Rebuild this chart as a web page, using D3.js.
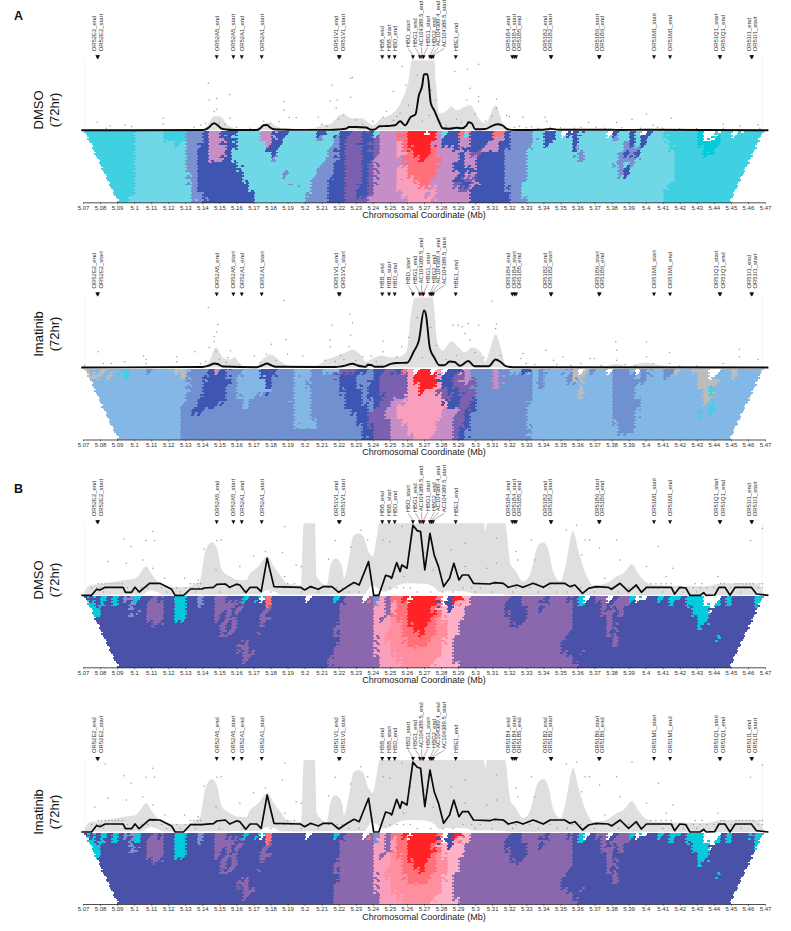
<!DOCTYPE html>
<html><head><meta charset="utf-8">
<style>html,body{margin:0;padding:0;background:#fff}svg{display:block}text{font-family:"Liberation Sans",Arial,sans-serif}</style>
<script src="https://cdn.jsdelivr.net/npm/d3@7"></script></head><body>
<script>
// Positions on the chromosome are written in hundredths of a Mb above 5 Mb (27 = 5.27 Mb).
const tickValues=[7,8,9,10,11,12,13,14,15,16,17,18,19,20,21,22,23,24,25,26,27,28,29,30,31,32,33,34,35,36,37,38,39,40,41,42,43,44,45,46,47];
const xAxisLabel="Chromosomal Coordinate (Mb)";
const conditions=["DMSO","Imatinib","DMSO","Imatinib"];
const timeLabel="(72hr)";
const panelLetters=["A","","B",""];

const geneLabels=["OR52E2_end","OR52E2_start","OR52A5_end","OR52A5_start","OR52A1_end","OR52A1_start","OR51V1_end","OR51V1_start","HBB_end","HBB_start","HBD_end","HBD_start","HBG1_end","AC104389.5_end","HBG1_start","HBG2_end","AC104389.4_end","AC104389.5_start","HBE1_end","OR51B4_end","OR51B4_start","OR51B5_end","OR51B2_end","OR51B2_start","OR51B6_start","OR51B6_end","OR51M1_start","OR51M1_end","OR51Q1_start","OR51Q1_end","OR51I1_end","OR51I1_start"];
const genePos=[7.84,7.88,14.84,15.82,16.31,17.48,22,22.06,24.55,24.95,25.28,26.35,26.76,26.88,26.97,27.35,27.44,27.53,28.86,32.18,32.3,32.4,34.43,34.47,37.26,37.3,40.49,41.43,44.34,44.38,46.2,46.24];
const labelPos=[7.66,8.06,14.84,15.82,16.31,17.48,21.84,22.26,24.55,24.95,25.28,26.07,26.5,26.85,27.22,27.6,27.85,28.2,28.86,31.94,32.28,32.6,34.07,34.38,37.13,37.45,40.49,41.43,44.15,44.55,46.05,46.4];
const geneLift=[6,6,6,6,6,6,6,6,6,6,6,10,10,11,11,11,11,10,6,6,6,6,6,6,6,6,6,6,6,6,6,6];
const geneRed=["AC104389.5_end"];

const lineA1=[[6.9,0],[14,.3],[14.2,1],[14.4,3],[14.6,6.5],[14.7,7],[14.9,5],[15.1,2],[15.4,.8],[15.8,.3],[17.2,.3],[17.4,2],[17.6,5],[17.8,5.3],[18,2.5],[18.2,1],[18.6,.7],[19,.5],[20,.4],[21.5,.4],[22,.8],[22.4,1.5],[22.6,3.3],[23,3.3],[23.6,2.8],[23.9,.6],[24.1,.8],[24.4,4],[24.9,4.3],[25.3,5],[25.6,9],[25.9,5],[26.2,13],[26.5,16],[26.7,35],[26.9,45],[27,56],[27.2,56],[27.4,27],[27.6,20],[27.9,8],[28.1,2],[28.5,1.5],[28.9,2.5],[29.2,2],[29.5,5],[29.6,8],[29.8,7],[30,1],[30.6,1.3],[31,4.5],[31.3,6],[31.6,5],[31.9,1],[32.3,.3],[34,.6],[34.5,1.4],[34.9,.5],[38,.6],[38.5,.3],[40,.5],[47.2,0]];
const lineA2=[[6.9,0],[14,.5],[14.4,2],[14.7,4],[14.9,3.5],[15.2,1],[17.2,.3],[17.5,2],[17.8,4],[18,2.5],[18.3,.7],[21.8,.5],[22.4,2],[22.8,3.8],[23.1,2],[23.4,1],[23.6,.8],[23.7,2.8],[23.9,2.5],[24.1,.8],[24.6,.8],[25,3.3],[25.4,4.5],[26,4.7],[26.4,16],[26.7,27],[27,57],[27.1,54],[27.35,19],[27.6,10],[27.9,2.3],[28.2,2.3],[28.5,6],[28.8,5.5],[29.1,1.7],[29.6,6.5],[29.96,1.3],[30.8,1.3],[31.2,8],[31.5,5.5],[31.8,1.3],[32.2,.3],[47.2,0]];
const lineB1=[[6.9,0],[7.5,0],[7.8,6],[8,5.3],[8.3,8],[9.35,8],[9.5,3],[9.85,3],[10.05,8],[10.3,3.3],[10.9,12],[11.5,12],[12.2,6],[12.4,0],[12.9,0],[13.3,6.3],[14,6.3],[14.1,7.3],[14.65,8],[14.85,11],[15.35,11.3],[15.6,8],[16,11],[16.2,10.3],[16.55,2.7],[16.8,8],[17.2,8],[17.45,3.7],[17.8,37],[18.2,8.7],[19.75,8],[20,5.3],[20.35,8.7],[20.8,6],[21.1,8.7],[21.6,8.7],[22,3],[22.5,8.7],[22.9,12.7],[23.2,10.3],[23.75,33.7],[24.05,0],[24.35,0],[24.75,20],[25,18.7],[25.1,17],[25.4,32.7],[25.6,23.7],[25.7,30.3],[26,27],[26.35,70],[26.6,64.7],[26.8,63.7],[27.05,25.3],[27.35,62],[27.6,40.3],[27.85,28.7],[28.15,8.7],[28.5,17],[28.75,32],[29.05,15.3],[29.25,20.3],[29.6,20.3],[29.9,12],[30.85,11.3],[31.15,12.7],[31.65,12],[31.95,8],[32.45,10.3],[32.8,8],[33.4,12],[34,8],[34.4,12],[35.25,12],[35.55,8.7],[35.85,10.3],[36.3,2],[36.65,7],[37.1,8.7],[37.8,8],[38,6],[38.5,12],[39,3.7],[39.45,10.3],[39.75,3],[40.05,8],[41.5,8],[41.7,1.3],[42,8],[42.35,7.3],[42.6,0],[43.2,0],[43.4,2.7],[43.55,0],[44.05,.3],[44.3,8],[44.65,8],[44.95,0],[45.25,8],[46.2,8],[46.5,1.3],[47.2,0]];
const lineB2=[[6.9,0],[7.5,0],[7.8,6.5],[8,5.3],[8.3,8],[9.35,8],[9.5,3.3],[9.85,3.3],[10.05,8],[10.3,3.3],[10.9,12.3],[11.5,12],[12.2,6],[12.4,0],[12.9,0],[13.3,7.3],[14,7.3],[14.1,7.7],[14.65,8.3],[14.85,11],[15.35,12],[15.6,8],[16,11],[16.2,10.3],[16.55,2.7],[16.8,8],[17.2,8],[17.45,3.7],[17.8,37],[18.2,8.7],[19.75,8],[20,5.3],[20.35,8.7],[20.8,6],[21.1,8.7],[21.6,8.7],[22,3],[22.5,8.7],[22.9,12.7],[23.2,10.3],[23.75,33.7],[24.05,0],[24.35,0],[24.75,20],[25,18.7],[25.1,17],[25.4,32.7],[25.6,23.7],[25.7,30.3],[26,27],[26.35,70],[26.6,64.7],[26.8,63.7],[27.05,25.3],[27.35,62],[27.6,40.3],[27.85,28.7],[28.15,8.7],[28.5,17],[28.75,32],[29.05,15.3],[29.25,20.3],[29.6,20.3],[29.9,12],[30.85,11.3],[31.15,12.7],[31.65,12],[31.95,8],[32.45,10.3],[32.8,8],[33.4,12],[34,8],[34.4,12],[35.25,12],[35.55,8.7],[35.85,10.3],[36.3,2],[36.65,7],[37.1,8.7],[37.8,8],[38,6],[38.5,12],[39,3.7],[39.45,10.3],[39.75,3],[40.05,8],[41.5,8],[41.7,1.3],[42,8],[42.35,7.3],[42.6,0],[43.2,0],[43.4,2.7],[43.55,0],[44.05,.3],[44.3,8],[44.65,8],[44.95,0],[45.25,8],[46.2,8],[46.5,1.3],[47.2,0]];

const bandA1=[[7,0],[13.8,.5],[14.2,3],[14.7,14],[15,14],[15.5,5],[16.2,1],[17,1],[17.5,6],[17.9,8],[18.5,3],[19.5,1],[20.5,2],[21,5],[21.5,6],[21.8,11],[22.2,16],[22.8,12],[23.3,12],[23.8,7],[24,5],[24.5,12],[25,15],[25.7,30],[26.1,50],[26.3,70],[27.6,70],[27.7,47],[27.9,17],[28.3,19],[28.6,24],[28.9,20],[29.7,25],[30.3,10],[30.6,7],[31.2,25],[31.7,4],[32.2,.5],[34,1],[47,0]];
const bandA2=[[7,0],[14,.5],[14.4,6],[14.8,20],[15.2,10],[15.6,8],[15.9,10],[16.3,2],[17.1,1],[17.6,9],[18,13],[18.6,6],[19.2,1.5],[20.7,2],[21.2,7],[21.8,11],[22.4,15],[22.8,18],[23.2,14],[23.6,6],[24,9],[24.5,12],[25,10],[25.6,11],[26,17],[26.25,54],[26.45,70],[27.5,70],[27.8,24],[28.1,17],[28.6,26],[29.1,19],[29.4,15],[29.8,20],[30.3,16],[30.6,6],[30.8,14],[31.2,33],[31.5,20],[31.8,2],[32.1,.5],[37.5,.5],[38.2,3.5],[39,1.5],[40,5],[40.6,3],[41.5,1],[43,1],[47,0]];
const bandB1=[[7,0],[7.4,10],[8,11],[9.35,15],[10.1,17],[10.7,29],[11.3,15],[11.7,9],[12.9,8],[13.85,14],[14.15,42],[14.55,53],[14.85,47],[15.15,25],[15.6,19],[16.2,15],[16.6,15],[16.7,19],[17.3,29],[17.8,39],[18.35,25],[18.95,12],[19.8,10],[19.95,72],[20.6,72],[20.7,19],[21.3,10],[21.5,29],[21.8,37],[22.2,29],[22.3,17],[22.6,37],[22.85,59],[23.15,62],[23.45,59],[23.8,42],[24,39],[24.4,72],[30.5,72],[30.6,64],[30.7,72],[31.75,72],[32.05,32],[32.35,25],[32.8,14],[33.2,20],[33.7,50],[34,53],[34.3,45],[34.6,22],[35,14],[35.25,25],[35.75,64],[36.05,45],[36.55,19],[36.95,10],[37.7,12],[38.3,19],[38.7,22],[39.2,31],[39.55,22],[39.95,14],[40.65,10],[43.55,9],[44.5,12],[46.5,12],[47,0]];
const bandB2=[[7,0],[7.4,10],[8,11],[9.35,15],[10.1,17],[10.7,29],[11.3,15],[11.7,9],[12.9,8],[13.85,14],[14.15,42],[14.55,53],[14.85,47],[15.15,25],[15.6,19],[16.2,15],[16.6,15],[16.7,19],[17.3,29],[17.8,39],[18.35,25],[18.95,12],[19.8,10],[19.95,72],[20.6,72],[20.7,19],[21.3,10],[21.5,29],[21.8,37],[22.2,29],[22.3,17],[22.6,37],[22.85,59],[23.15,62],[23.45,59],[23.8,42],[24,39],[24.4,72],[30.5,72],[30.6,64],[30.7,72],[31.75,72],[32.05,32],[32.35,25],[32.8,14],[33.2,20],[33.7,50],[34,53],[34.3,45],[34.6,22],[35,14],[35.25,25],[35.75,64],[36.05,45],[36.55,19],[36.95,10],[37.7,12],[38.3,19],[38.7,22],[39.2,31],[39.55,22],[39.95,14],[40.65,10],[43.55,9],[44.5,12],[46.5,12],[47,0]];
const bandFloorB=[[7,.3],[10.4,.5],[10.7,3],[11,5],[11.4,3],[11.7,.5],[17.3,1],[17.8,5],[18.2,4],[18.6,.5],[23.5,1],[23.9,10],[24.2,8],[24.6,3.5],[25,5],[25.5,10],[26,12],[27,11.5],[27.6,8],[27.9,3],[28.3,4],[29.4,4],[29.9,1.5],[31.5,1.3],[32,.3],[47,0]];

const pointsA1=[[7.84,8],[8.37,2],[8.6,4.3],[9.45,5.3],[9.85,3.7],[11.7,12],[11.7,6.3],[14.35,47],[14.4,30],[14.85,31.7],[14.85,21],[14.7,18.7],[15.6,35.7],[15.6,12],[18.8,28.7],[18.8,20],[19.1,12.7],[19.5,12.7],[18.5,8.7],[21.6,45],[21.5,29.3],[21.85,22],[21.9,30],[22.7,52],[22.8,52.7],[22.7,33],[22.3,15.3],[23,10.3],[20.8,13],[24.8,18.7],[24.6,13],[25.2,38.7],[25.7,63.7],[25.95,45],[25.6,17],[28.8,58.7],[29.55,61],[30.2,66],[29.7,42],[29.5,30],[30.2,33.7],[30.2,28.7],[31.25,31],[31.25,22],[31.85,15],[32,13.7],[32.8,13],[34.1,13],[34.2,8.7],[36.65,7.7],[38.3,7.7],[39.2,11],[40.05,16.3],[41.5,12],[40.45,5],[44.55,6.3],[45.55,4.3],[46.6,5.3],[46.7,2],[44.55,2],[32.3,3],[32.6,4],[33,2.5],[33.3,3.5],[33.7,2],[34.4,3],[35,2.5],[35.8,2],[36.2,3],[37.1,3],[37.6,2],[38.6,2.5],[39.7,2],[40.7,3],[41,2],[42,1.5],[43,1.5],[25.2,10],[25.4,14],[26.1,25],[26.6,55],[27.4,40],[27.7,30],[27.3,15],[26.9,9],[28.3,5],[28.9,11],[29.2,8],[30.6,9],[31,14],[26,8],[30,16],[13.5,3],[13.9,5],[14.2,7],[15,8],[15.3,6],[16,3],[16.8,2],[17.6,9],[18,7],[21,6],[21.3,4],[22,11],[23.4,6],[24,9]];
const pointsA2=[[7.1,2.3],[7.9,15.7],[8.2,4],[8.65,4],[9.45,5.7],[10.55,11.7],[10.7,8],[10.7,4],[12.5,10.7],[12.5,5.7],[13.55,15.7],[14.35,60],[14.9,43],[14.85,35.7],[14.7,31],[14.7,25.7],[14.4,20],[14.8,15.7],[15.65,16.7],[15.5,10],[17.05,11.3],[18.05,23.3],[17.75,13.3],[18.8,67],[18.9,28],[19,13.3],[19.9,11.3],[21.6,42.3],[21.5,27.3],[21.5,20.7],[21.2,7.3],[22.65,53.3],[22.8,44.7],[22.7,32.3],[22.6,20.7],[22.1,12.3],[23.4,10.7],[23.9,11.3],[24.6,26.3],[24.6,15.7],[25.4,10.7],[25.7,20.7],[28.7,42.3],[29,42.3],[29.25,40.7],[29.6,44],[30.2,42.3],[29.7,27.3],[29.4,34],[31,66.3],[31.25,43.3],[31.2,39],[32.8,14],[32.7,9],[34.15,17.3],[35.15,10.7],[34.6,7.3],[36.75,9],[37,9],[38.25,25.7],[38.3,17.3],[38.3,7.3],[40.05,25.7],[40.05,10.7],[41.4,15],[41.4,4],[45.5,18.3],[45.5,10.7],[46.6,8],[44.55,4],[40.45,4],[33,4],[33.5,3],[34.8,3],[35.6,2],[36.2,4],[37.4,2],[38.8,3],[39.4,2],[42,1.5],[43,1.5],[26.1,30],[26.6,50],[27.4,40],[27.7,22],[26.9,10],[28.3,8],[28.9,12],[30.5,10],[31.5,12],[30,15],[13.9,4],[14.2,6],[15,8],[15.4,5],[16.2,3],[17.4,5],[18.3,7],[21.8,6],[22.3,8],[23,7],[24.2,6]];
const pointsB1=[[8.47,33.7],[9.54,32],[9.39,56.3],[9.83,48.7],[10.68,54.7],[11.2,54.7],[11.1,63.7],[10.5,35.3],[11.1,27],[11.8,17],[12.96,17],[13.75,15.3],[14.1,46],[14.86,54.7],[15.1,55.3],[14.8,25.3],[16.2,28.7],[17,39.3],[17.7,43.7],[18.83,68.7],[18.83,18.7],[18.7,42.7],[19.5,30.3],[19.8,28.7],[21.4,36],[21.8,54.7],[22.7,48],[23.3,65.3],[23.7,55.3],[24.6,55.3],[25,53.7],[25.7,68.7],[28.6,45.3],[29.4,52],[31.25,57],[32.4,43.7],[32.5,35.3],[33.3,55.3],[33.5,35.3],[35.35,65.3],[35.95,70],[36.45,55.3],[36.7,55.3],[36.25,40.3],[37.3,47],[38.3,55.3],[38.5,35.3],[40.75,48.7],[40.05,28.7],[41.6,27],[41.2,18.7],[46.15,54.7],[46.85,67],[44.25,18.7],[37.6,17],[30.7,27],[31.25,32],[29.4,28.7],[26.2,45],[27,42],[27.55,25],[25.2,18.7],[25.8,18.7]];
const pointsB2=[[7.7,25],[8.47,33.7],[9.54,32],[9.39,56.3],[9.83,48.7],[8.3,68],[10.68,54.7],[11.2,54.7],[11.1,63.7],[10.5,35.3],[11.1,27],[11.8,17],[12.96,17],[13.75,15.3],[14.1,46],[14.86,54.7],[15.1,55.3],[14.8,25.3],[16.2,28.7],[17,39.3],[17.7,43.7],[18.83,68.7],[18.83,18.7],[18.7,52],[19.5,30.3],[19.8,28.7],[21.4,36],[21.8,54.7],[22.7,48],[23.3,65.3],[23.7,55.3],[24.6,55.3],[25,53.7],[25.7,68.7],[28.6,45.3],[29.4,52],[31.25,57],[32.4,43.7],[32.5,35.3],[33.3,55.3],[33.5,35.3],[35.35,68],[35.95,70],[36.45,55.3],[36.7,55.3],[36.25,40.3],[37.3,47],[38.3,55.3],[38.5,35.3],[39.2,70],[40.75,48.7],[40.05,28.7],[41.6,27],[41.2,18.7],[46.15,54.7],[46.85,67],[44.25,18.7],[37.6,17],[30.7,27],[31.25,32],[29.4,28.7],[26.2,45],[27,42],[27.55,25],[25.2,18.7],[25.8,18.7]];
const dotsHigh=[7.9,8.1,8.3,8.5,8.7,8.9,9.1,9.3,10.9,11.1,11.3,13.3,13.5,13.7,13.9,15.1,15.3,16,16.1,19,19.4,30.9,31.2,31.6,33.4,33.6,34.4,34.7,35,35.2,38.5,40.3,40.6,40.9,41.2,41.5,42.9,43.3,44.4,44.6,45.3,45.5,45.7,45.9,46.1,46.3,46.7,46.85];
const dotsMid=[7.5,7.8,8,8.4,8.8,9.2,9.6,10,10.4,10.8,11.6,12,12.5,13,13.4,13.8,14.2,14.6,15.6,16.8,17.2,18.4,18.8,19.2,19.6,20.4,21,21.4,21.9,22.2,25,25.4,25.8,26.2,29.3,29.8,30.3,31.9,32.4,32.8,33.2,34,34.4,35.7,36.2,36.7,37.1,37.5,38,39,39.5,40,40.4,40.8,41.2,41.6,42,42.4,42.8,43.2,43.6,44,44.4,45,45.4,45.8,46.2,46.6,46.85];
const dotsLow=[8.2,9.4,10.2,11.9,12.7,13.6,15,16.4,18,19.8,20.8,22.6,23.2,26.6,27.4,28.1,28.7,30,31,32.2,33.7,34.8,35.4,37,38.4,39.8,41,42.2,43,44.8,45.6,46.4];

const palette={c:"#3fd0e1",a:"#6fd7e6",b:"#03cbdc",p:"#7a90d1",d:"#3e55b2",v:"#7a60ae",k:"#c68dc6",r:"#f99ebb",o:"#ffb1c7",f:"#ff7079",h:"#ff8f9e",R:"#ff2227",l:"#83b8e6",s:"#7090d0",n:"#4952a8",u:"#8b68ae",g:"#bcbcbc"};

// Each row lists colour letter + start position; "." leaves the cell empty. Rows run from the diagonal downward.
const heatA1=[
"c7 a10 c11.8 p13.1 d14 k14.4 d15.1 a15.9 k17.3 d18.2 a18.9 d20.7 a21.2 d21.9 v22.8 d23.5 a24 k24.3 f25.5 R26.1 .27 R27.2 k27.6 a28 d28.3 f29 a29.5 d29.8 f31 d31.6 p32 a33.3 d34 a34.7 .35.1 d35.5 a36.2 .37.8 a38 d38 a38.4 d38.9 a39.4 .39.6 d39.9 a40.3 c41 b43 .43.4 .44 c44.2 .45.1 c45.5",
"c7 a10 c11.8 p13.1 d14 k14.4 d15.2 a15.9 k17.4 d18.2 a18.7 p20.8 a21 p21.8 d22 v22.4 d23.3 v23.9 k24.4 f25.5 R26.1 k27.6 d28.1 k29 d29.7 k31 d31.6 p32.1 a33.5 d34 a34.6 d35.7 a36.1 p38 a38.3 p38.9 d39.1 a39.4 d39.8 a40.1 c41.2 b43.1 .43.5 b43.9 c44.3",
"c7 a10 c12.3 a12.8 p13.1 d13.9 k14.4 d15.2 a16 k17.6 d18.1 a18.6 p21.6 d22 v22.4 d23.2 v23.9 k24.5 r25.4 f25.7 R26.1 k27.5 d28 k29.1 d29.6 k30.8 d31.5 p32 a33.3 d34.1 a34.5 p35.6 d35.8 a36.1 p38.6 d39.1 a39.3 d39.6 a40 c41.4 b43.1 .43.7 b43.8 c44.3",
"c7 a10 p13.1 d13.8 k14.3 d15.3 a15.9 d17.8 a18.5 p21.4 d21.9 v22.3 d23.3 v23.9 k24.5 r25.3 f25.8 R26.2 f27.5 k27.8 d28.6 k29.2 d29.5 k30.4 d31.4 p31.9 a33.2 p35.7 d35.9 a36.1 p38.7 a39.3 p39.4 a39.8 c41.5 b43.3 c44",
"c7 a10 p13.1 d13.8 k14.4 d15.2 a15.8 d18 a18.4 p21.3 d21.9 v22.3 d23.4 v24 k24.4 r25.4 f25.9 R26.3 f27.3 k27.8 d28.9 k29.3 v29.6 d30.3 p31.8 a33.1 p35.9 a36.4 p38.4 d38.6 p39 d39.2 a39.6 c41.6 b43.5 c43.9",
"c7 a10 p13.1 d13.7 k14.4 d15.2 a15.8 p18.2 a18.4 p21.2 d21.9 v22.3 d23.4 k24 f25.8 R26.6 f27 k27.9 d29 k29.4 d30 p31.8 a33 p36.1 a36.3 p38.3 a38.9 p39.1 a39.5 c41.6",
"c7 a10 p13.1 d13.6 a16.1 p18.3 a18.5 p21 d21.8 v22.3 d23.4 v23.8 k24.2 f25.9 k27.9 d28.8 k29.5 d30 p31.7 a33 p38.2 a38.8 p39.1 a39.5 c41.6",
"c7.4 a10 p13.1 d13.6 a16.2 p18.6 a18.8 p20.7 d21.7 v22.3 d23.4 v23.7 k24.2 r25.4 f26 k27.8 d28.7 k29.6 d29.9 p31.6 a33 p38.3 d38.6 a39.1 c41.6",
"c7.5 a10 p13.2 d13.6 a16.4 p18.7 a18.9 p20.6 d21.6 v22.3 d23.4 v23.6 k24.2 r25.4 f26 k27.7 d28.9 k29.5 d30 p31.6 a32.9 p38.4 d38.7 a39 c41.6",
"c7.8 a10 p13.2 d13.6 a16.5 p20.5 d21.5 v22.3 d23.3 v23.7 k24.2 r25.5 f26.3 k27.5 d28.7 v29.2 d30.1 p31.7 a32.9 c41.6",
"c8 a10 p13.2 d13.6 a16.7 p19.2 a19.3 p20.4 d21.4 v22.4 d23.2 v23.7 k24.2 r25.5 f26.6 k27.3 v28.7 d29.1 k29.6 d30.2 p31.8 a32.8 c41.4",
"c8.2 a10 p13.3 d13.7 a16.8 p19.3 a19.5 p20.3 d21.3 v22.4 d23.1 v23.6 k24 r25.4 k26.9 r27.2 k27.6 v29 d29.6 p31.9 a32.8 c41.2",
"c8.6 a9.9 p13.4 d14 a16.9 p20.2 d21.3 v22.4 d23 v23.6 k23.9 r25.6 k27 r27.4 k27.8 d29.6 p32 a32.8 c41.1",
"c9 a9.8 p13.5 d14.2 a17 p20.1 d21.3 v22.4 k23.8 r26 k27.5 d29.7 p32 a33 c41"];
const heatA2=[
"g7 l7.5 g8 l8.4 c9.2 l9.6 s10.8 l11 g12.4 l12.9 s13.2 d14.3 k14.8 d15 s15.5 l16.4 d17.4 s18.3 l19.4 s20.3 l21 v21.9 d23.1 s23.7 d24 v24.6 d25.2 f25.6 r26 .26.5 R26.6 .26.9 R27.1 .27.4 r27.6 .28 d28.5 r29.2 k29.5 s29.8 k31 s31.5 l32 d32.8 l33.2 s33.6 l34.2 s35.2 l35.5 g35.8 .36.1 g36.3 s36.7 l37 .37.8 s38.1 l38.9 .39.5 s39.8 l40.2 s41 g41.6 l42 g42.8 .43.6 .44 l44.3 g45 l45.4 g46.6",
"g7 l8 g8.4 l8.8 c9.4 l9.8 g12.6 l13 s13.1 d14.2 s15.5 l16.2 d17.5 s18.2 l19.5 s20.3 d21.9 s23 d24 v24.5 r26 R26.5 r27.6 d27.9 v28.6 k29.3 s29.8 k30.9 s31.5 l33.3 s33.6 l34 s35.3 g35.8 l36.3 s38 l39.3 s39.7 l40.2 s41 l41.3 g42.9 .43.6 g44 l44.1 g45.1 l45.3 g46.6",
"l7 s10.9 l11.1 l13 s13.2 d14.2 s15.6 l16.1 d17.6 s18.1 l19.4 s20.2 s21.5 d22.1 s23.1 d23.9 v24.5 v25 r26 R26.5 r27.7 d27.9 v28.7 k29.2 v29.6 s30 k30.9 s31.5 l33.4 s33.7 l34 s35.4 g35.9 l36.2 s38.1 l39.3 s39.5 l40.1 g43 .43.7 g43.8 l44.3",
"l7 s10.9 l11.1 l13 s13.2 d14 s15.5 l16.1 d17.7 s18 l19.4 s20.2 d22.1 s23.2 d23.8 v24.5 r26 R26.6 r27.6 d28 v28.6 s29.9 k31 s31.5 l33.5 s33.8 l34.1 g36 l36.2 s38 l39.3 g43.1 c43.9 l44.1",
"l7 s13.2 d14 s15.3 l16.1 d17.9 s18.1 l19.4 s20.3 d22.2 s23.4 d23.8 v24.5 r26 R26.7 r27.1 v27.8 d28.4 v29 s30 l33.4 g36.1 l36.3 s38 l39.4 g43.3 c43.8 l44",
"l7 s13.1 d13.9 s15.3 l16.2 s16.9 l19.4 s20.4 d22.3 s23.5 d23.8 v24.6 r25.9 v28 d28.7 v29.2 s30 l33.3 g36.2 l36.3 s38 l39.5 g43.4 c43.9 l44",
"l7 s12.9 d13.8 s15.2 l16.3 s16.8 l19.2 s20.5 d22.4 s23.5 d24 v24.5 k25 r25.9 d28.2 v29 d29.6 s30 l33.2 s38 l39.6 g43.5 l43.7",
"l7 s12.7 d13.6 s14.8 l16.4 s16.7 l19.3 s20.5 d22.5 s23.6 d24 v24.4 k25 r25.5 d28.3 v28.9 d29.6 s30 l33.1 s38 l39.6 c43.6 l44",
"l7 s12.6 d13.4 s14 l19.3 s20.5 d22.7 s23.7 v23.9 k24.8 r25.3 k28.1 v28.9 d29.5 s29.9 l33.1 s38 l39.5 c43 l43.2 c43.7 l44",
"l7 s12.6 l19.3 s20.5 d22.9 v23.8 k24.8 r25.3 k28 v28.7 d29.4 s29.8 l33.1 s38 l39.5 c43 l43.2",
"l7 s12.6 l19.4 s20.6 d23.1 v23.8 k24.9 r25.6 k27.8 v28.7 d29.3 s29.7 l33 s38.2 l39.5",
"l7 s12.6 l19.5 s20.6 d23.3 v23.9 k25 r26 k27.8 v28.6 d29.2 s29.6 l33.2 s38.3 l39.4",
"l7 s12.6 d23.4 v24 k25.1 r26 k27.6 v28.6 d29.1 s29.5 l33.2 s38.5 l39.2",
"l7 s12.6 d23.5 v24 k25 r26.3 k27.4 v28.6 d29.1 s29.5 l33.2"];
const heatB1=[
"n7 b7.2 n7.5 b8.1 n8.5 b8.7 n9 p9.5 n9.9 b10.1 n10.3 u10.9 n11.5 b12.3 n13 p13.7 n14 u14.8 n15.4 b16.5 n16.7 b17.2 .17.5 f17.6 n18 .20.1 n20.3 b21.7 n22 u22.3 .23.3 u23.6 f23.9 p24.1 r24.4 u24.7 f25 R25.8 .26.2 R26.4 .26.9 R27.1 f27.6 n27.9 .28.1 n28.3 f28.6 R28.8 o29.2 u29.7 n32.1 u32.6 n33.9 u34.3 .34.9 u35 n35.5 b36 .36.3 n36.6 u37 .37.7 n38 u38.3 b39 .39.5 n39.9 b40.7 n41 b41.4 n41.9 b42.4 .43.4 .44 n44.3 b44.8 n45.1 b46.4 p46.7",
"b7.3 n7.8 b8.2 n8.4 b8.8 n9 p9.6 n10 u10.8 n11.6 b12.4 n13 p13.8 n14 u14.6 n15.6 u15.8 n16.2 f17.6 n18 u22.2 r24.1 p24.2 r24.4 u24.7 r25 f25.4 R26 f27.6 n27.9 .28.2 n28.3 r28.7 f28.9 o29.2 u29.6 n31.7 u32.8 n33.9 u34.2 n35.6 b36 n36.3 u37.4 n37.8 u38 n39 b41.5 n41.8 b42.5 .43.5 .43.9 b44 n44.4 b44.8 n45.1 b46.4 p46.8",
"b7.4 n8 p9.9 n10 u10.8 n11.6 b12.4 n13 u14.7 n15.8 u16 n16.4 u17.6 n18 u22 r24.1 u24.7 r24.9 f25.3 R26 f27.5 o27.9 n28.3 o28.7 u29.5 n31.8 u33 n33.8 u34.1 n35.7 u37.5 n37.9 u38.2 n38.6 b42.7 .43.6 n43.9",
"b7.6 n8 p9.9 n10.2 u10.8 n11.6 b12.4 n13 u14.6 n15 u15.3 n15.9 u17.3 n17.8 u22 r24 u24.6 r24.9 f25.2 R26 f27.6 o28.1 u29.4 n31.9 u33.1 n35.8 u37.5 n38 u38.4 n38.6 b42.8 n43.7",
"n7 u10.8 n11.6 b12.5 n12.9 u14.7 n15 u15.5 n16 u17.4 n17.9 u22 r24 u24.5 r24.7 h25.1 f25.5 R26.1 f27.3 h27.8 o28.2 u29.2 n32 u33 n35.8 u37.6 n38 b43 n43.6",
"n7 u10.9 n11.5 u14.9 n15.3 u15.6 n16.1 u17.5 n17.8 u21.9 r24 h25 f25.6 R26.2 f27.2 h27.8 o28.3 u29.1 n32.2 u32.7 n35.7 u37.7 n38.2 b43.1 n43.5",
"n7 u15 n15.4 u15.8 n16.1 u21.8 r24 h24.9 f25.6 R26.4 f27 h27.8 o28.3 u29 n35.6 u37.8 n38.2 b43.2 n43.4",
"n7 u15.2 n15.6 u16.9 n17.2 u21.9 r24.1 h24.8 f25.7 R26.6 f26.9 h27.7 o28.3 u28.9 n35.4 u37.9 n38.2",
"n7 u22 r24.2 h24.8 f25.9 h27.4 o28.2 u28.8 n35.2 u38 n38.3 b44 n44.2",
"n7 u16.2 n16.7 u21.9 r24.2 h24.9 f26.1 h27.2 o28.2 u28.7 n35 u38.1 n38.4",
"n7 u16.2 n16.8 u21.7 r24.2 h25 o28.1 u28.7 n35.1",
"n7 u16.3 n16.9 u21.6 r24.2 h25.2 o28 u28.7 n35.4 u36 n36.2",
"n7 u16.4 n16.8 u21.5 r24.3 h25.5 o27.8 u28.8 n35.6",
"n7 u21.5 r24.3 h25.6 o27.5 u28.9 n35.9"];
const heatB2=[
"n7 b7.2 n7.5 b8.1 n8.5 b8.7 n9 p9.5 n9.9 b10.1 n10.5 u10.9 n11.5 b12.3 n13 p13.7 n14 u14.8 n15.4 b16.5 n16.7 b17.2 .17.5 f17.6 n18 .20.1 n20.3 b21.7 n22 u22.3 .23.3 u23.6 f23.9 p24.1 r24.4 u24.7 f25 R25.8 .26.2 R26.4 .26.9 R27.1 f27.6 n27.9 .28.1 n28.3 f28.6 R28.8 o29.2 u29.7 n32.1 u32.6 n33.9 u34.3 .34.9 u35 n35.5 b36 .36.3 n36.6 u37 .37.7 n38 u38.3 b39 .39.5 n39.9 b40.7 n41 b41.4 n41.9 b42.4 .43.4 .44 n44.3 b44.8 n45.1 b46.2 p46.7",
"b7.3 n7.8 b8.2 n8.4 b8.8 n9 p9.6 b10 n10.4 u10.8 n11.6 b12.4 n13 p13.8 n14 u14.6 n15.6 u15.8 n16.2 f17.6 n18 u22.2 r24.1 p24.2 r24.4 u24.7 r25 f25.4 R26 f27.6 n27.9 .28.2 n28.3 r28.7 f28.9 o29.2 u29.6 n31.7 u32.8 n33.9 u34.2 n35.6 b36 n36.3 u37.4 n37.8 u38 n39 b41.5 n41.8 b42.5 .43.5 .43.9 b44 n44.4 b44.8 n45.1 b46.3 p46.8",
"b7.4 n8 p9.9 n10 u10.8 n11.6 b12.4 n13 u14.7 n15.8 u16 n16.4 u17.6 n18 u22 r24.1 u24.7 r24.9 f25.3 R26 f27.5 o27.9 n28.3 o28.7 u29.5 n31.8 u33 n33.8 u34.1 n35.7 u37.5 n37.9 u38.2 n38.6 b42.7 .43.6 n43.9 b46.4 p46.7",
"b7.6 n8 p9.8 n10.2 u10.8 n11.6 b12.4 n13 u14.6 n15 u15.3 n15.9 u17.3 n17.8 u22 r24 u24.6 r24.9 f25.2 R26 f27.6 o28.1 u29.4 n31.9 u33.1 n35.8 u37.5 n38 u38.4 n38.6 b42.8 n43.7",
"b7.8 n8.1 u10.8 n11.6 b12.5 n12.9 u14.7 n15 u15.5 n16 u17.4 n17.9 u22 r24 u24.5 r24.7 h25.1 f25.5 R26.1 f27.3 h27.8 o28.2 u29.2 n32 u33 n35.8 u37.6 n38 b43 n43.6",
"n7 u10.9 n11.5 u14.9 n15.3 u15.6 n16.1 u17.5 n17.8 u21.9 r24 h25 f25.6 R26.2 f27.2 h27.8 o28.3 u29.1 n32.2 u32.7 n35.7 u37.7 n38.2 b43.1 n43.5",
"n7 u15 n15.4 u15.8 n16.1 u21.8 r24 h24.9 f25.6 R26.4 f27 h27.8 o28.3 u29 n35.6 u37.8 n38.2 b43.2 n43.4",
"n7 u15.2 n15.6 u16.9 n17.2 u21.9 r24.1 h24.8 f25.7 R26.6 f26.9 h27.7 o28.3 u28.9 n35.4 u37.9 n38.2",
"n7 u22 r24.2 h24.8 f25.9 h27.4 o28.2 u28.8 n35.2 u38 n38.3 b44 n44.2",
"n7 u16.2 n16.7 u21.9 r24.2 h24.9 f26.1 h27.2 o28.2 u28.7 n35 u38.1 n38.4",
"n7 u16.2 n16.8 u21.7 r24.2 h25 o28.1 u28.7 n35.1",
"n7 u16.3 n16.9 u21.6 r24.2 h25.2 o28 u28.7 n35.4 u36 n36.2",
"n7 u16.4 n16.8 u21.6 r24.3 h25.5 o27.8 u28.8 n35.6",
"n7 u21.8 r24.3 h25.6 o27.5 u28.9 n35.9"];

const panels=[
 {base:130.3,line:lineA1,band:bandA1,floor:null,pts:pointsA1,heat:heatA1,smooth:true,dots:false,titleY:110,letterY:20},
 {base:367.5,line:lineA2,band:bandA2,floor:null,pts:pointsA2,heat:heatA2,smooth:true,dots:false,titleY:334},
 {base:595.3,line:lineB1,band:bandB1,floor:bandFloorB,pts:pointsB1,heat:heatB1,smooth:false,dots:true,titleY:580,letterY:492.5},
 {base:832,line:lineB2,band:bandB2,floor:bandFloorB,pts:pointsB2,heat:heatB2,smooth:false,dots:true,titleY:812}];

const W=791,H=931,plotH=72;
const x=d3.scaleLinear().domain([7,47]).range([83,765]);
const svg=d3.select("body").append("svg").attr("width",W).attr("height",H);
const fmt=v=>(5+v/100).toFixed(2).replace(/0$/,"");
const interp=(arr,p)=>{const i=d3.bisector(d=>d[0]).right(arr,p);if(i<=0)return arr[0][1];if(i>=arr.length)return arr[arr.length-1][1];const[a,b]=[arr[i-1],arr[i]];return a[1]+(b[1]-a[1])*(p-a[0])/(b[0]-a[0]);};
const ordered=[[0,8,2,10],[12,4,14,6],[3,11,1,9],[15,7,13,5]];

panels.forEach((P,idx)=>{
 const g=svg.append("g");
 const y=d3.scaleLinear().domain([0,plotH]).range([P.base,P.base-plotH]);
 const floor=P.floor;
 const bandData=floor?Array.from(new Set([...P.band.map(d=>d[0]),...floor.map(d=>d[0])])).sort(d3.ascending).map(p=>[p,interp(P.band,p),interp(floor,p)]):P.band.map(d=>[d[0],d[1],0]);
 g.append("path").attr("fill","#dfdfdf").attr("d",d3.area().x(d=>x(d[0])).y0(d=>y(Math.min(d[1],d[2]))).y1(d=>y(d[1])).curve(d3.curveMonotoneX)(bandData));
 g.selectAll("line.side").data([7.1,46.85]).join("line").attr("x1",d=>x(d)).attr("x2",d=>x(d)).attr("y1",y(plotH)).attr("y2",y(0)).attr("stroke","#efefef").attr("stroke-width",.6);
 let pts=P.pts.slice();
 if(P.dots){pts=pts.concat(dotsHigh.map(v=>[v,11.6]),dotsMid.map(v=>[v,7.6]),dotsLow.map(v=>[v,3.4]));}
 g.selectAll("circle").data(pts).join("circle").attr("cx",d=>x(d[0])).attr("cy",d=>y(d[1])).attr("r",.75).attr("fill","#9c9c9c");
 // heat map: each written row is drawn through three fine sub-rows; neighbouring rows mesh in an ordered pattern
 const rowData=P.heat.map(str=>str.trim().split(/\s+/).map(t=>[+t.slice(1),t[0]]));
 const N=rowData.length,sub=3,cellHund=1/6;
 const top=P.base+1,subH=(plotH-1)/(N*sub);
 const bis=d3.bisector(d=>d[0]).right;
 const cols=d3.range(7,47,cellHund);
 const runs=[];
 for(let s=0;s<N*sub;s++){
  const f=(s+.5)/(N*sub);
  const L=7.12+(9.07-7.12)*f,Rr=46.87-(46.87-44.9)*f;
  const off=s%2?cellHund/2:0;
  const u=(s+.5)/sub-.5;
  let cur=null;
  cols.forEach((c0,i)=>{
   const c=c0+off;
   const m=ordered[s%4][i%4]/16;
   let r=Math.floor(u);const t=u-r;if(m<t)r+=1;r=Math.max(0,Math.min(N-1,r));
   const toks=rowData[r];
   let k=bis(toks,c+(m-.47)*.36)-1;if(k<0)k=0;
   const col=toks[k][1];
   if(c<L||c>Rr||col==="."){cur=null;return;}
   if(cur&&cur.col===col){cur.c1=c+cellHund/2;}
   else{cur={s,c0:c-cellHund/2,c1:c+cellHund/2,col};runs.push(cur);}
  });
 }
 g.append("g").attr("shape-rendering","crispEdges").selectAll("rect").data(runs).join("rect")
  .attr("x",d=>x(d.c0)).attr("width",d=>x(d.c1)-x(d.c0)+.3).attr("y",d=>top+d.s*subH).attr("height",subH+.3).attr("fill",d=>palette[d.col]);
 g.append("path").attr("fill","none").attr("stroke","#0a0a0a").attr("stroke-width",P.smooth?1.9:1.7).attr("stroke-linejoin","round")
  .attr("d",d3.line().x(d=>x(d[0])).y(d=>y(d[1])).curve(P.smooth?d3.curveMonotoneX:d3.curveLinear)(P.line));
 const ax=g.append("g").attr("transform",`translate(0,${P.base+plotH})`).call(d3.axisBottom(x).tickValues(tickValues).tickFormat(fmt).tickSize(2).tickSizeOuter(0).tickPadding(1));
 ax.selectAll("text").attr("font-size",6).attr("fill","#333").style("font-family",'"Liberation Sans",Arial,sans-serif');
 ax.selectAll("line").attr("stroke","#222").attr("stroke-width",.5);
 ax.select(".domain").attr("stroke","#222").attr("stroke-width",.8);
 g.append("text").attr("x",424).attr("y",P.base+plotH+15.5).attr("text-anchor","middle").attr("font-size",9).attr("fill","#222").text(xAxisLabel);
 const triY=y(plotH)-1;
 const genes=g.append("g");
 geneLabels.forEach((name,i)=>{
  const tx=x(genePos[i]),lx=x(labelPos[i]),lift=geneLift[i];
  const red=geneRed.includes(name);
  genes.append("path").attr("d",`M${tx-2},${triY-2}L${tx+2},${triY-2}L${tx},${triY+2}Z`).attr("fill",red?"#d01020":"#111");
  if(lift>6) genes.append("line").attr("x1",tx).attr("y1",triY-2).attr("x2",lx).attr("y2",triY-lift+1).attr("stroke","#333").attr("stroke-width",.4);
  genes.append("text").attr("transform",`translate(${lx+2},${triY-lift}) rotate(-90)`).attr("font-size",5.9).attr("fill","#333").text(name);
 });
 g.append("text").attr("transform",`translate(43,${P.titleY}) rotate(-90)`).attr("text-anchor","middle").attr("font-size",13).attr("fill","#111").text(conditions[idx]);
 g.append("text").attr("transform",`translate(59,${P.titleY}) rotate(-90)`).attr("text-anchor","middle").attr("font-size",13).attr("fill","#111").text(timeLabel);
 if(panelLetters[idx]) g.append("text").attr("x",14).attr("y",P.letterY).attr("font-size",12.5).attr("font-weight","bold").attr("fill","#111").text(panelLetters[idx]);
});
</script></body></html>
